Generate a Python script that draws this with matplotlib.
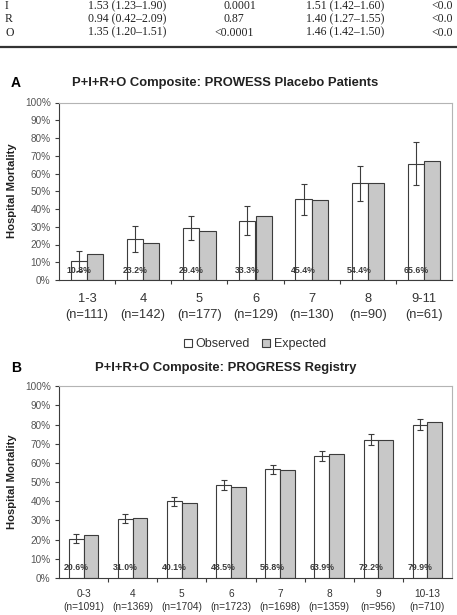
import numpy as np
import matplotlib
matplotlib.use("Agg")
import matplotlib.pyplot as plt
from matplotlib.patches import Patch
from matplotlib.lines import Line2D

plt.rcParams["font.family"] = ["Liberation Sans", "DejaVu Sans"]

# table fragment at the top of the page (last column is cut by the page edge)
table_rows = ["I", "R", "O"]
table_col2 = ["1.53 (1.23\u20131.90)", "0.94 (0.42\u20132.09)", "1.35 (1.20\u20131.51)"]
table_col3 = ["0.0001", "0.87", "<0.0001"]
table_col4 = ["1.51 (1.42\u20131.60)", "1.40 (1.27\u20131.55)", "1.46 (1.42\u20131.50)"]
table_col5 = ["<0.0", "<0.0", "<0.0"]

# panel A: PROWESS placebo patients
a_cats = ["1-3", "4", "5", "6", "7", "8", "9-11"]
a_n = [111, 142, 177, 129, 130, 90, 61]
a_obs = [10.8, 23.2, 29.4, 33.3, 45.4, 54.4, 65.6]
a_exp = [14.4, 20.6, 27.8, 35.8, 45.2, 54.6, 67.0]
a_lo = [5.1, 15.9, 22.7, 25.1, 36.6, 44.5, 53.5]
a_hi = [16.5, 30.4, 36.2, 41.5, 54.2, 64.5, 77.7]

# panel B: PROGRESS registry
b_cats = ["0-3", "4", "5", "6", "7", "8", "9", "10-13"]
b_n = [1091, 1369, 1704, 1723, 1698, 1359, 956, 710]
b_obs = [20.6, 31.0, 40.1, 48.5, 56.8, 63.9, 72.2, 79.9]
b_exp = [22.4, 31.1, 39.0, 47.3, 56.2, 64.5, 72.2, 81.2]
b_lo = [18.3, 28.5, 37.6, 46.1, 54.3, 61.2, 69.4, 77.0]
b_hi = [23.0, 33.2, 42.3, 51.0, 59.1, 66.3, 75.3, 83.1]

W, H = 457, 615
EDGE = "#3c3c3c"
GREY = "#c8c8c8"


def fy(px):
    # pixel row from the top -> figure fraction
    return 1 - px / H


def draw_panel(ax, cats, ns, obs, exp, lo, hi, width, xfs, xpad, lsp, capsize):
    x = np.arange(len(cats))
    ax.bar(x - width / 2, obs, width, color="white", edgecolor=EDGE, linewidth=0.8, zorder=2)
    ax.bar(x + width / 2, exp, width, color=GREY, edgecolor=EDGE, linewidth=0.8, zorder=2)
    obs_a = np.array(obs)
    yerr = [obs_a - np.array(lo), np.array(hi) - obs_a]
    ax.errorbar(x - width / 2, obs, yerr=yerr, fmt="none", ecolor=EDGE,
                elinewidth=0.8, capsize=capsize, capthick=0.8, zorder=3)
    for xi, v in zip(x, obs):
        ax.text(xi - width / 2, 5.6, f"{v:.1f}%", ha="center", va="center",
                fontsize=6.3, fontweight="bold", color="#3a3a3a", zorder=4)

    ax.set_xlim(-0.5, len(cats) - 0.5)
    ax.set_ylim(0, 100)
    ax.set_yticks(np.arange(0, 101, 10))
    ax.set_yticklabels([f"{v}%" for v in range(0, 101, 10)], fontsize=7.2, color="#555555")
    ax.set_xticks(x)
    ax.set_xticklabels([f"{c}\n(n={n})" for c, n in zip(cats, ns)], fontsize=xfs,
                       color="#333333", linespacing=lsp)
    ax.set_xticks(np.arange(0.5, len(cats) - 0.5, 1), minor=True)
    ax.tick_params(axis="x", which="major", length=0, pad=xpad)
    ax.tick_params(axis="x", which="minor", length=3, width=0.8, color=EDGE, direction="out")
    ax.tick_params(axis="y", length=3, width=0.8, color=EDGE, pad=3)
    for s in ["left", "bottom"]:
        ax.spines[s].set_color(EDGE)
        ax.spines[s].set_linewidth(0.8)
    for s in ["top", "right"]:
        ax.spines[s].set_color("#b4b4b4")
        ax.spines[s].set_linewidth(0.8)


fig = plt.figure(figsize=(W / 100, H / 100), dpi=100)

# table fragment
for i, row in enumerate(table_rows):
    y = fy(6 + i * 13.3)
    kw = dict(fontsize=8.5, va="center", family=["Liberation Serif", "DejaVu Serif"], color="#222222")
    fig.text(5 / W, y, row, ha="left", **kw)
    fig.text(88 / W, y, table_col2[i], ha="left", **kw)
    if table_col3[i].startswith("<"):
        fig.text(254 / W, y, table_col3[i], ha="right", **kw)
    else:
        fig.text(223 / W, y, table_col3[i], ha="left", **kw)
    fig.text(306 / W, y, table_col4[i], ha="left", **kw)
    fig.text(431 / W, y, table_col5[i], ha="left", **kw)
fig.add_artist(Line2D([0, 1], [fy(47), fy(47)], color="#333333", linewidth=1.6))

# panel A
axA = fig.add_axes([59 / W, fy(280), 393 / W, (280 - 102.5) / H])
draw_panel(axA, a_cats, a_n, a_obs, a_exp, a_lo, a_hi, 0.29, 9.3, 9.0, 1.5, 2.5)
fig.text(16 / W, fy(83), "A", ha="center", va="center", fontsize=10, fontweight="bold")
fig.text(225 / W, fy(83), "P+I+R+O Composite: PROWESS Placebo Patients", ha="center",
         va="center", fontsize=9.4, fontweight="bold", color="#222222")
fig.text(12 / W, fy(191), "Hospital Mortality", rotation=90, ha="center", va="center",
         fontsize=8.1, fontweight="bold", color="#222222")

# legend
handles = [Patch(facecolor="white", edgecolor=EDGE, linewidth=0.8, label="Observed"),
           Patch(facecolor=GREY, edgecolor=EDGE, linewidth=0.8, label="Expected")]
fig.legend(handles=handles, loc="center", bbox_to_anchor=(255 / W, fy(344)), ncol=2,
           frameon=False, fontsize=9, handlelength=0.62, handleheight=0.62,
           handletextpad=0.3, columnspacing=1.0, labelcolor="#333333")

# panel B
axB = fig.add_axes([59 / W, fy(578), 393 / W, (578 - 386.3) / H])
draw_panel(axB, b_cats, b_n, b_obs, b_exp, b_lo, b_hi, 0.30, 7.3, 7.8, 1.4, 2.2)
fig.text(16 / W, fy(368), "B", ha="center", va="center", fontsize=10, fontweight="bold")
fig.text(226 / W, fy(368), "P+I+R+O Composite: PROGRESS Registry", ha="center",
         va="center", fontsize=9.4, fontweight="bold", color="#222222")
fig.text(12 / W, fy(482), "Hospital Mortality", rotation=90, ha="center", va="center",
         fontsize=8.1, fontweight="bold", color="#222222")

fig.savefig("out.png", dpi=100)
